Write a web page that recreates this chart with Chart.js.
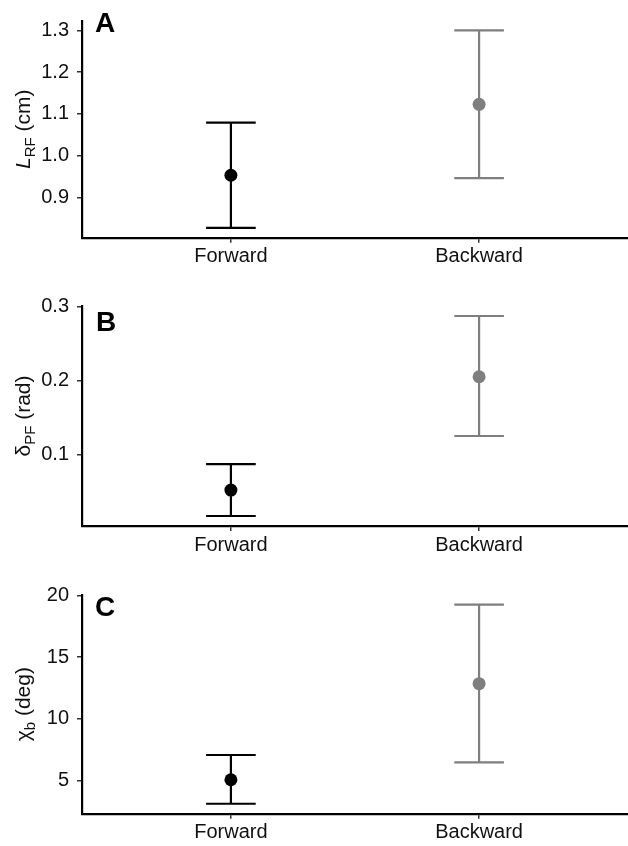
<!DOCTYPE html>
<html><head><meta charset="utf-8">
<script src="https://cdn.jsdelivr.net/npm/chart.js@4/dist/chart.umd.min.js"></script>
<style>
html,body{margin:0;padding:0;background:#fff;}
#wrap{position:relative;width:628px;height:846px;overflow:hidden;}
canvas{position:absolute;left:0;}
</style></head><body>
<div id="wrap">
<canvas id="cA" style="top:0px;width:628px;height:280px" width="628" height="280"></canvas>
<canvas id="cB" style="top:280px;width:628px;height:280px" width="628" height="280"></canvas>
<canvas id="cC" style="top:560px;width:628px;height:286px" width="628" height="286"></canvas>
</div>
<script>
// ---- data ----
const categories = ['Forward', 'Backward'];
const seriesColors = ['#000000', '#7f7f7f'];

const lrfMean = [0.953, 1.123];
const lrfLow  = [0.827, 0.946];
const lrfHigh = [1.079, 1.300];
const lrfTicks = [0.9, 1.0, 1.1, 1.2, 1.3];

const dpfMean = [0.052, 0.205];
const dpfLow  = [0.017, 0.125];
const dpfHigh = [0.087, 0.287];
const dpfTicks = [0.1, 0.2, 0.3];

const chiMean = [5.08, 12.85];
const chiLow  = [3.14, 6.48];
const chiHigh = [7.08, 19.24];
const chiTicks = [5, 10, 15, 20];

const FONT = '"Liberation Sans", Arial, Helvetica, sans-serif';

const errorBarPlugin = {
  id: 'errbars',
  beforeDatasetsDraw(chart, args, opts) {
    const {ctx, scales: {x, y}} = chart;
    ctx.save();
    ctx.lineWidth = 2.2;
    opts.mean.forEach((m, i) => {
      const cx = x.getPixelForValue(i + 1);
      const xl = x.getPixelForValue(i + 1 - 0.1);
      const xr = x.getPixelForValue(i + 1 + 0.1);
      const yl = y.getPixelForValue(opts.low[i]);
      const yh = y.getPixelForValue(opts.high[i]);
      ctx.strokeStyle = seriesColors[i];
      ctx.beginPath();
      ctx.moveTo(cx, yl); ctx.lineTo(cx, yh);
      ctx.moveTo(xl, yl); ctx.lineTo(xr, yl);
      ctx.moveTo(xl, yh); ctx.lineTo(xr, yh);
      ctx.stroke();
    });
    ctx.restore();
  }
};

const decorPlugin = {
  id: 'decor',
  afterDraw(chart, args, opts) {
    const {ctx, chartArea} = chart;
    ctx.save();
    ctx.fillStyle = '#000';
    ctx.font = 'bold 28px ' + FONT;
    ctx.textAlign = 'left';
    ctx.textBaseline = 'alphabetic';
    ctx.fillText(opts.letter, opts.letterX, opts.letterY);
    const cy = (chartArea.top + chartArea.bottom) / 2;
    ctx.translate(opts.titleX, cy);
    ctx.rotate(-Math.PI / 2);
    const parts = opts.title;
    let total = 0;
    parts.forEach(p => { ctx.font = p.font; total += ctx.measureText(p.text).width; });
    let pos = -total / 2;
    ctx.fillStyle = '#111';
    parts.forEach(p => {
      ctx.font = p.font;
      ctx.fillText(p.text, pos, p.dy || 0);
      pos += ctx.measureText(p.text).width;
    });
    ctx.restore();
  }
};

function makePanel(id, mean, low, high, ticks, fmt, padTop, xHeight, letter, letterX, letterY, title) {
  const lo = Math.min(...low), hi = Math.max(...high);
  const ex = (hi - lo) * 0.05;
  new Chart(document.getElementById(id), {
    type: 'scatter',
    data: {
      datasets: [{
        data: mean.map((v, i) => ({x: i + 1, y: v})),
        pointRadius: 6.5,
        pointHoverRadius: 6.5,
        pointBackgroundColor: seriesColors,
        pointBorderColor: seriesColors,
        pointBorderWidth: 0
      }]
    },
    options: {
      responsive: false,
      animation: false,
      devicePixelRatio: 1,
      layout: {autoPadding: false, padding: {top: padTop, right: 0, left: 0, bottom: 0}},
      plugins: {
        legend: {display: false},
        tooltip: {enabled: false},
        errbars: {mean, low, high},
        decor: {letter, letterX, letterY, titleX: 30, title}
      },
      scales: {
        x: {
          type: 'linear', min: 0.4, max: 2.6,
          afterBuildTicks: s => { s.ticks = categories.map((c, i) => ({value: i + 1})); },
          afterFit: s => { s.height = xHeight; s.paddingRight = 0; s.paddingLeft = 0; },
          ticks: {
            callback: v => categories[v - 1],
            color: '#111', font: {family: FONT, size: 20}, padding: 2, maxRotation: 0, autoSkip: false
          },
          grid: {drawOnChartArea: false, drawTicks: true, tickLength: 5, color: '#333', lineWidth: 1.5},
          border: {display: true, color: '#000', width: 2.2}
        },
        y: {
          type: 'linear', min: lo - ex, max: hi + ex,
          afterBuildTicks: s => { s.ticks = ticks.map(v => ({value: v})); },
          afterFit: s => { s.width = 82; },
          ticks: {
            callback: fmt,
            color: '#111', font: {family: FONT, size: 20}, padding: 8
          },
          grid: {drawOnChartArea: false, drawTicks: true, tickLength: 5, color: '#333', lineWidth: 1.5},
          border: {display: true, color: '#000', width: 2.2}
        }
      }
    },
    plugins: [errorBarPlugin, decorPlugin]
  });
}

const big = '21px ' + FONT, small = '15px ' + FONT, ital = 'italic 21px ' + FONT;
makePanel('cA', lrfMean, lrfLow, lrfHigh, lrfTicks, v => v.toFixed(1), 20.6, 42.3, 'A', 95, 32,
  [{text: 'L', font: ital}, {text: 'RF', font: small, dy: 5}, {text: ' (cm)', font: big}]);
makePanel('cB', dpfMean, dpfLow, dpfHigh, dpfTicks, v => v.toFixed(1), 26, 34, 'B', 96, 51,
  [{text: 'δ', font: big}, {text: 'PF', font: small, dy: 5}, {text: ' (rad)', font: big}]);
makePanel('cC', chiMean, chiLow, chiHigh, chiTicks, v => String(v), 34.7, 32.3, 'C', 95, 56,
  [{text: 'χ', font: big}, {text: 'b', font: small, dy: 5}, {text: ' (deg)', font: big}]);
</script>
</body></html>
